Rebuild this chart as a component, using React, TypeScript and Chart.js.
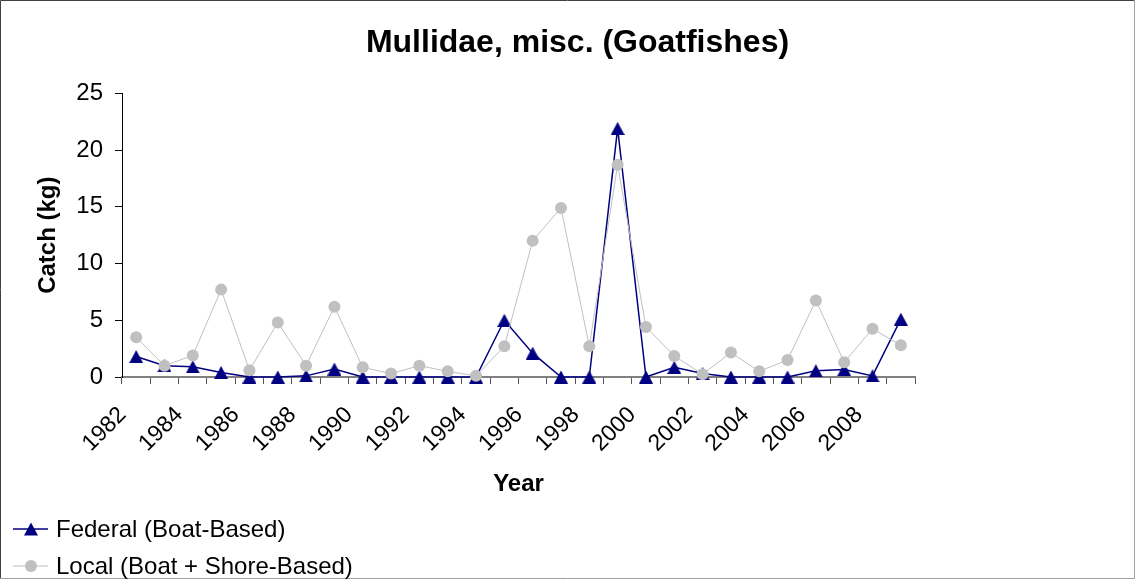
import React, { useEffect, useRef } from 'react';
import { Chart, registerables } from 'chart.js';

Chart.register(...registerables);

const years = [
  '1982', '1983', '1984', '1985', '1986', '1987', '1988', '1989', '1990', '1991',
  '1992', '1993', '1994', '1995', '1996', '1997', '1998', '1999', '2000', '2001',
  '2002', '2003', '2004', '2005', '2006', '2007', '2008', '2009',
];
const federal = [
  1.8, 1.0, 0.9, 0.4, 0, 0, 0.1, 0.7, 0, 0,
  0, 0, 0, 5.0, 2.1, 0, 0, 21.9, 0, 0.85,
  0.3, 0, 0, 0, 0.55, 0.65, 0.1, 5.1,
];
const local = [
  3.5, 1.0, 1.9, 7.7, 0.6, 4.8, 1.0, 6.2, 0.85, 0.3,
  1.0, 0.5, 0.1, 2.7, 12.0, 14.9, 2.7, 18.7, 4.4, 1.85,
  0.25, 2.15, 0.5, 1.5, 6.75, 1.3, 4.25, 2.8,
];
const yMin = 0;
const yMax = 25;
const yStep = 5;

const FONT = "'Liberation Sans', Arial, sans-serif";
const NAVY = '#000080';
const SILVER = '#C0C0C0';

function makeTriangle(color: string, w: number, h: number) {
  const c = document.createElement('canvas');
  c.width = w;
  c.height = h;
  const x = c.getContext('2d')!;
  x.fillStyle = color;
  x.beginPath();
  x.moveTo(w / 2, 0);
  x.lineTo(w, h);
  x.lineTo(0, h);
  x.closePath();
  x.fill();
  return c;
}

const legendItems = [
  { label: 'Federal (Boat-Based)', color: NAVY, style: 'triangle', lineWidth: 1.5, radius: 7 },
  { label: 'Local (Boat + Shore-Based)', color: SILVER, style: 'circle', lineWidth: 1, radius: 6 },
];

const decorPlugin = {
  id: 'decor',
  afterDraw(chart: any) {
    const ctx = chart.ctx;
    ctx.save();
    ctx.strokeStyle = '#404040';
    ctx.lineWidth = 1;
    ctx.beginPath();
    ctx.moveTo(0.5, 578.5);
    ctx.lineTo(0.5, 0.5);
    ctx.lineTo(1134.5, 0.5);
    ctx.stroke();
    ctx.strokeStyle = '#a0a0a0';
    ctx.beginPath();
    ctx.moveTo(1134.5, 0.5);
    ctx.lineTo(1134.5, 578.5);
    ctx.lineTo(0.5, 578.5);
    ctx.stroke();
    const rows = [529, 566];
    legendItems.forEach((it, i) => {
      const y = rows[i];
      ctx.strokeStyle = it.color;
      ctx.lineWidth = it.lineWidth;
      ctx.beginPath();
      ctx.moveTo(13, y);
      ctx.lineTo(48, y);
      ctx.stroke();
      ctx.fillStyle = it.color;
      ctx.beginPath();
      if (it.style === 'triangle') {
        ctx.moveTo(31, y - 6.5);
        ctx.lineTo(38, y + 6.5);
        ctx.lineTo(24, y + 6.5);
        ctx.closePath();
      } else {
        ctx.arc(31, y, it.radius, 0, Math.PI * 2);
      }
      ctx.fill();
      ctx.fillStyle = '#000';
      ctx.font = `24px ${FONT}`;
      ctx.textAlign = 'left';
      ctx.textBaseline = 'middle';
      ctx.fillText(it.label, 56, y + 1);
    });
    ctx.restore();
  },
};

export default function App() {
  const ref = useRef<HTMLCanvasElement>(null);
  useEffect(() => {
    if (!ref.current) return;
    const tri = makeTriangle(NAVY, 14, 13);
    const chart = new Chart(ref.current, {
      type: 'line',
      data: {
        labels: years,
        datasets: [
          {
            label: legendItems[0].label,
            data: federal,
            borderColor: NAVY,
            backgroundColor: NAVY,
            borderWidth: 1.5,
            pointStyle: tri as any,
            pointRadius: 7,
            pointBorderWidth: 0,
            tension: 0,
            order: 1,
            clip: false as any,
          },
          {
            label: legendItems[1].label,
            data: local,
            borderColor: SILVER,
            backgroundColor: SILVER,
            borderWidth: 1,
            pointStyle: 'circle',
            pointRadius: 6,
            pointBorderWidth: 0,
            pointBackgroundColor: SILVER,
            pointBorderColor: SILVER,
            tension: 0,
            order: 0,
            clip: false as any,
          },
        ],
      },
      options: {
        responsive: false,
        animation: false,
        devicePixelRatio: 1,
        layout: { padding: { left: 20, right: 0, top: 0, bottom: 72 } },
        plugins: {
          legend: { display: false },
          tooltip: { enabled: false },
          title: {
            display: true,
            text: 'Mullidae, misc. (Goatfishes)',
            color: '#000',
            font: { family: FONT, size: 32, weight: 'bold' },
            padding: { top: 24, bottom: 30.9 },
          },
        },
        scales: {
          x: {
            type: 'category',
            offset: true,
            grid: {
              offset: true,
              drawOnChartArea: false,
              drawTicks: true,
              tickLength: 7,
              color: '#555',
              lineWidth: 1,
            },
            border: { display: true, color: '#808080', width: 2 },
            ticks: {
              autoSkip: false,
              minRotation: 45,
              maxRotation: 45,
              padding: 4,
              color: '#000',
              font: { family: FONT, size: 23 },
              callback: (_v: any, i: number) => (i % 2 === 0 ? years[i] + '   ' : ''),
            },
            title: {
              display: true,
              text: 'Year',
              color: '#000',
              font: { family: FONT, size: 24, weight: 'bold' },
              padding: { top: 0, bottom: 8 },
            },
            afterFit: (s: any) => {
              s.height = 130;
            },
          },
          y: {
            type: 'linear',
            position: 'left',
            min: yMin,
            max: yMax,
            grid: {
              drawOnChartArea: false,
              drawTicks: true,
              tickLength: 7,
              color: '#000',
            },
            border: { display: true, color: '#000', width: 1 },
            ticks: {
              stepSize: yStep,
              padding: 12,
              color: '#000',
              font: { family: FONT, size: 24 },
            },
            title: {
              display: true,
              text: 'Catch (kg)',
              color: '#000',
              font: { family: FONT, size: 24, weight: 'bold' },
              padding: { top: 14, bottom: 0 },
            },
            afterFit: (s: any) => {
              s.width = 102;
            },
          },
          yRight: {
            type: 'linear',
            position: 'right',
            display: true,
            ticks: { display: false },
            grid: { display: false, drawTicks: false },
            border: { display: false },
            afterFit: (s: any) => {
              s.width = 220;
            },
          },
        },
      },
      plugins: [decorPlugin],
    });
    return () => chart.destroy();
  }, []);
  return (
    <div style={{ position: 'absolute', left: 0, top: 0, width: 1135, height: 579, background: '#fff' }}>
      <canvas ref={ref} width={1135} height={579} style={{ display: 'block' }} />
    </div>
  );
}
